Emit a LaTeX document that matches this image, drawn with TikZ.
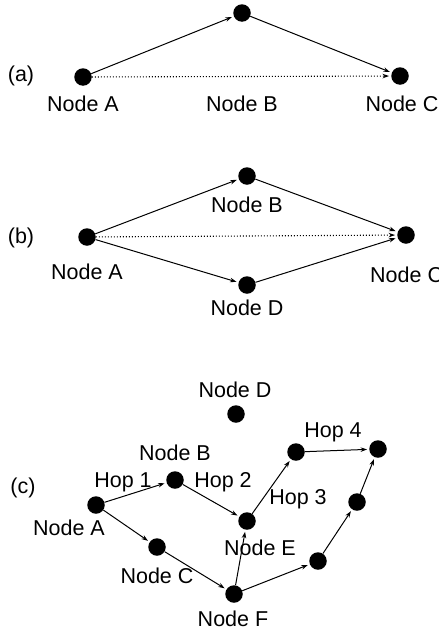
\documentclass[tikz,border=0pt]{standalone}
\usepackage{fontspec}
\setmainfont{Liberation Sans}
\usetikzlibrary{arrows.meta}
\tikzset{
  dot/.style={circle,fill=black,inner sep=0pt,minimum size=17.5pt},
  arr/.style={-{Stealth[length=6.5pt,width=4.5pt]},line width=1pt,shorten >=2pt},
  darr/.style={arr,dotted,line width=1.1pt},
  lbl/.style={font=\fontsize{21.5}{24}\selectfont,inner sep=0pt},
}
\begin{document}
\begin{tikzpicture}[x=1pt,y=-1pt]
  \useasboundingbox (0,0) rectangle (439,632);
  % (a)
  \node[lbl] (ta) at (21,76) {(a)};
  \node[dot] (aA) at (83,77) {};
  \node[dot] (aB) at (242,13) {};
  \node[dot] (aC) at (400,76) {};
  \node[lbl] (laA) at (83,104) {Node A};
  \node[lbl] (laB) at (242,104) {Node B};
  \node[lbl] (laC) at (402,104) {Node C};
  \draw[arr] (aA) -- (aB); \draw[arr] (aB) -- (aC);
  \draw[darr] (aA) -- (aC);
  % (b)
  \node[lbl] (tb) at (21,238) {(b)};
  \node[dot] (bA) at (87,237) {};
  \node[dot] (bB) at (247,176) {};
  \node[dot] (bC) at (406,235) {};
  \node[dot] (bD) at (247,285) {};
  \node[lbl] (lbA) at (87,272) {Node A};
  \node[lbl] (lbB) at (247,205) {Node B};
  \node[lbl,anchor=west] (lbC) at (370,275) {Node C};
  \node[lbl] (lbD) at (247,308) {Node D};
  \draw[arr] (bA) -- (bB); \draw[arr] (bB) -- (bC);
  \draw[arr] (bA) -- (bD); \draw[arr] (bD) -- (bC);
  \draw[darr] (bA) -- (bC);
  % (c)
  \node[lbl] (tc) at (23,488) {(c)};
  \node[dot] (cD) at (236,414) {};
  \node[dot] (cB) at (175,480) {};
  \node[dot] (cA) at (96,505) {};
  \node[dot] (cC) at (157,547) {};
  \node[dot] (cE) at (247,521) {};
  \node[dot] (cF) at (234,594) {};
  \node[dot] (cP) at (296,452) {};
  \node[dot] (cQ) at (378,449) {};
  \node[dot] (cR) at (318,561) {};
  \node[dot] (cS) at (357,502) {};
  \node[lbl] (lcD) at (235,390) {Node D};
  \node[lbl] (lcB) at (175,453) {Node B};
  \node[lbl] (lcA) at (69,528) {Node A};
  \node[lbl] (lcC) at (157,576) {Node C};
  \node[lbl] (lcE) at (260,548) {Node E};
  \node[lbl] (lcF) at (233,619) {Node F};
  \node[lbl] (h1) at (123,482) {Hop 1};
  \node[lbl] (h2) at (223,482) {Hop 2};
  \node[lbl] (h3) at (298,499) {Hop 3};
  \node[lbl] (h4) at (333,432) {Hop 4};
  \draw[arr] (cA) -- (cB); \draw[arr] (cB) -- (cE);
  \draw[arr] (cE) -- (cP); \draw[arr] (cP) -- (cQ);
  \draw[arr] (cA) -- (cC); \draw[arr] (cC) -- (cF);
  \draw[arr] (cF) -- (cE); \draw[arr] (cF) -- (cR);
  \draw[arr] (cR) -- (cS); \draw[arr] (cS) -- (cQ);
\end{tikzpicture}
\end{document}
